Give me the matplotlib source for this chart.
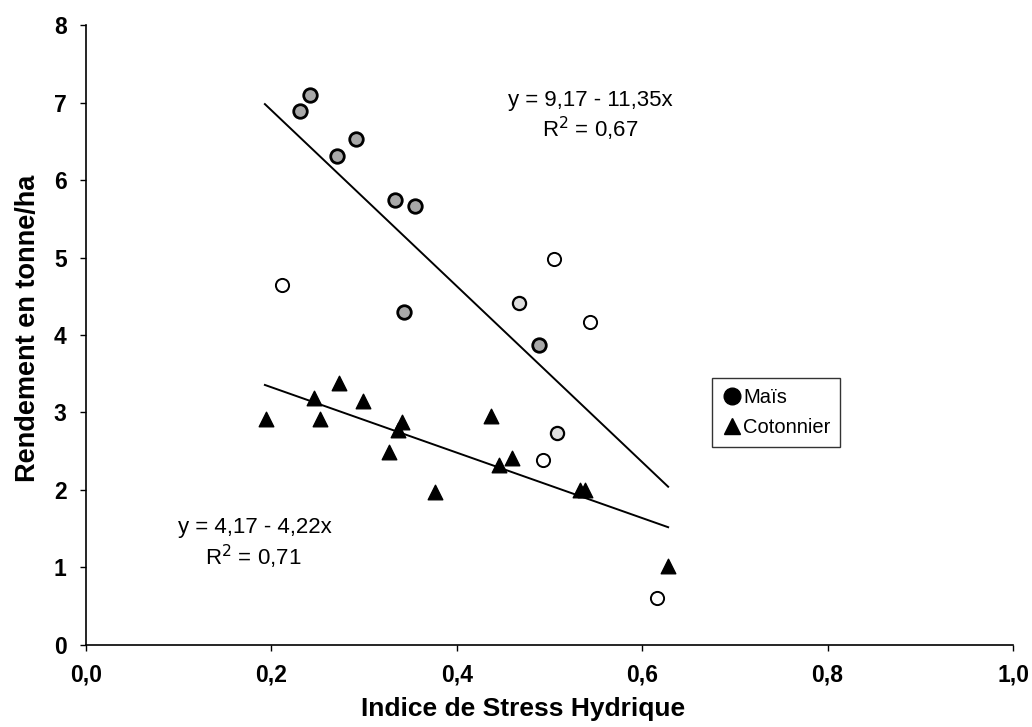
import matplotlib
matplotlib.use('Agg')
import matplotlib.pyplot as plt
from matplotlib.lines import Line2D

plt.rcParams['font.family'] = ['Liberation Sans', 'DejaVu Sans']

# Maize (Maïs) - dark grey filled, light grey filled, open circles
mais_dark_x = [0.242, 0.231, 0.291, 0.271, 0.333, 0.355, 0.343, 0.489]
mais_dark_y = [7.10, 6.89, 6.53, 6.31, 5.74, 5.66, 4.30, 3.87]
mais_light_x = [0.467, 0.508]
mais_light_y = [4.41, 2.74]
mais_open_x = [0.212, 0.505, 0.544, 0.493, 0.616]
mais_open_y = [4.65, 4.98, 4.17, 2.39, 0.61]

# Cotton (Cotonnier)
coton_x = [0.194, 0.246, 0.252, 0.273, 0.299, 0.341, 0.337, 0.327, 0.376,
           0.437, 0.446, 0.460, 0.533, 0.538, 0.628]
coton_y = [2.92, 3.19, 2.92, 3.38, 3.15, 2.88, 2.77, 2.49, 1.97,
           2.95, 2.32, 2.41, 2.00, 2.00, 1.02]

# regression lines (intercept, slope) and x range
mais_fit = (9.17, -11.35)
coton_fit = (4.17, -4.22)
fit_x = [0.193, 0.628]

fig = plt.figure(figsize=(10.32, 7.27), dpi=100)
ax = fig.add_axes([0.0833, 0.1128, 0.8983, 0.8528])

for a, b in [mais_fit, coton_fit]:
    ax.plot(fit_x, [a + b * x for x in fit_x], color='black', lw=1.4, zorder=1)

ax.scatter(mais_dark_x, mais_dark_y, s=95, facecolor='#a8a8a8', edgecolor='black', linewidth=2.0, zorder=3)
ax.scatter(mais_light_x, mais_light_y, s=90, facecolor='#dedede', edgecolor='black', linewidth=1.6, zorder=3)
ax.scatter(mais_open_x, mais_open_y, s=90, facecolor='white', edgecolor='black', linewidth=1.4, zorder=3)
ax.scatter(coton_x, coton_y, s=110, marker='^', color='black', zorder=3)

# regression equations
ax.text(0.544, 7.03, 'y = 9,17 - 11,35x', fontsize=16, ha='center', va='center')
ax.text(0.544, 6.66, 'R$^2$ = 0,67', fontsize=16, ha='center', va='center')
ax.text(0.182, 1.52, 'y = 4,17 - 4,22x', fontsize=16, ha='center', va='center')
ax.text(0.180, 1.14, 'R$^2$ = 0,71', fontsize=16, ha='center', va='center')

ax.set_xlim(0, 1.0)
ax.set_ylim(0, 8)
ax.set_xticks([0, 0.2, 0.4, 0.6, 0.8, 1.0])
ax.set_xticklabels(['0,0', '0,2', '0,4', '0,6', '0,8', '1,0'])
ax.set_yticks(range(0, 9))
for lab in ax.get_xticklabels() + ax.get_yticklabels():
    lab.set_fontweight('bold')
    lab.set_fontsize(16.5)
ax.tick_params(direction='out', length=4, width=1)
ax.tick_params(axis='x', pad=9)
ax.tick_params(axis='y', pad=10)
ax.spines['top'].set_visible(False)
ax.spines['right'].set_visible(False)
ax.spines['left'].set_linewidth(1.2)
ax.spines['bottom'].set_linewidth(1.2)

ax.set_xlabel('Indice de Stress Hydrique', fontsize=19, fontweight='bold')
ax.xaxis.set_label_coords(0.472, -0.084)
ax.set_ylabel('Rendement en tonne/ha', fontsize=19.5, fontweight='bold')
ax.yaxis.set_label_coords(-0.049, 0.51)

handles = [Line2D([], [], marker='o', color='black', ls='', markersize=12),
           Line2D([], [], marker='^', color='black', ls='', markersize=12)]
leg = ax.legend(handles, ['Maïs', 'Cotonnier'], loc='upper left',
                bbox_to_anchor=(0.675, 0.431), fontsize=14.5, frameon=True,
                fancybox=False, edgecolor='black', handletextpad=0.05,
                handlelength=1.0, borderpad=0.5, labelspacing=0.55,
                borderaxespad=0)
leg.get_frame().set_linewidth(1.0)

fig.savefig('out.png', dpi=100)
